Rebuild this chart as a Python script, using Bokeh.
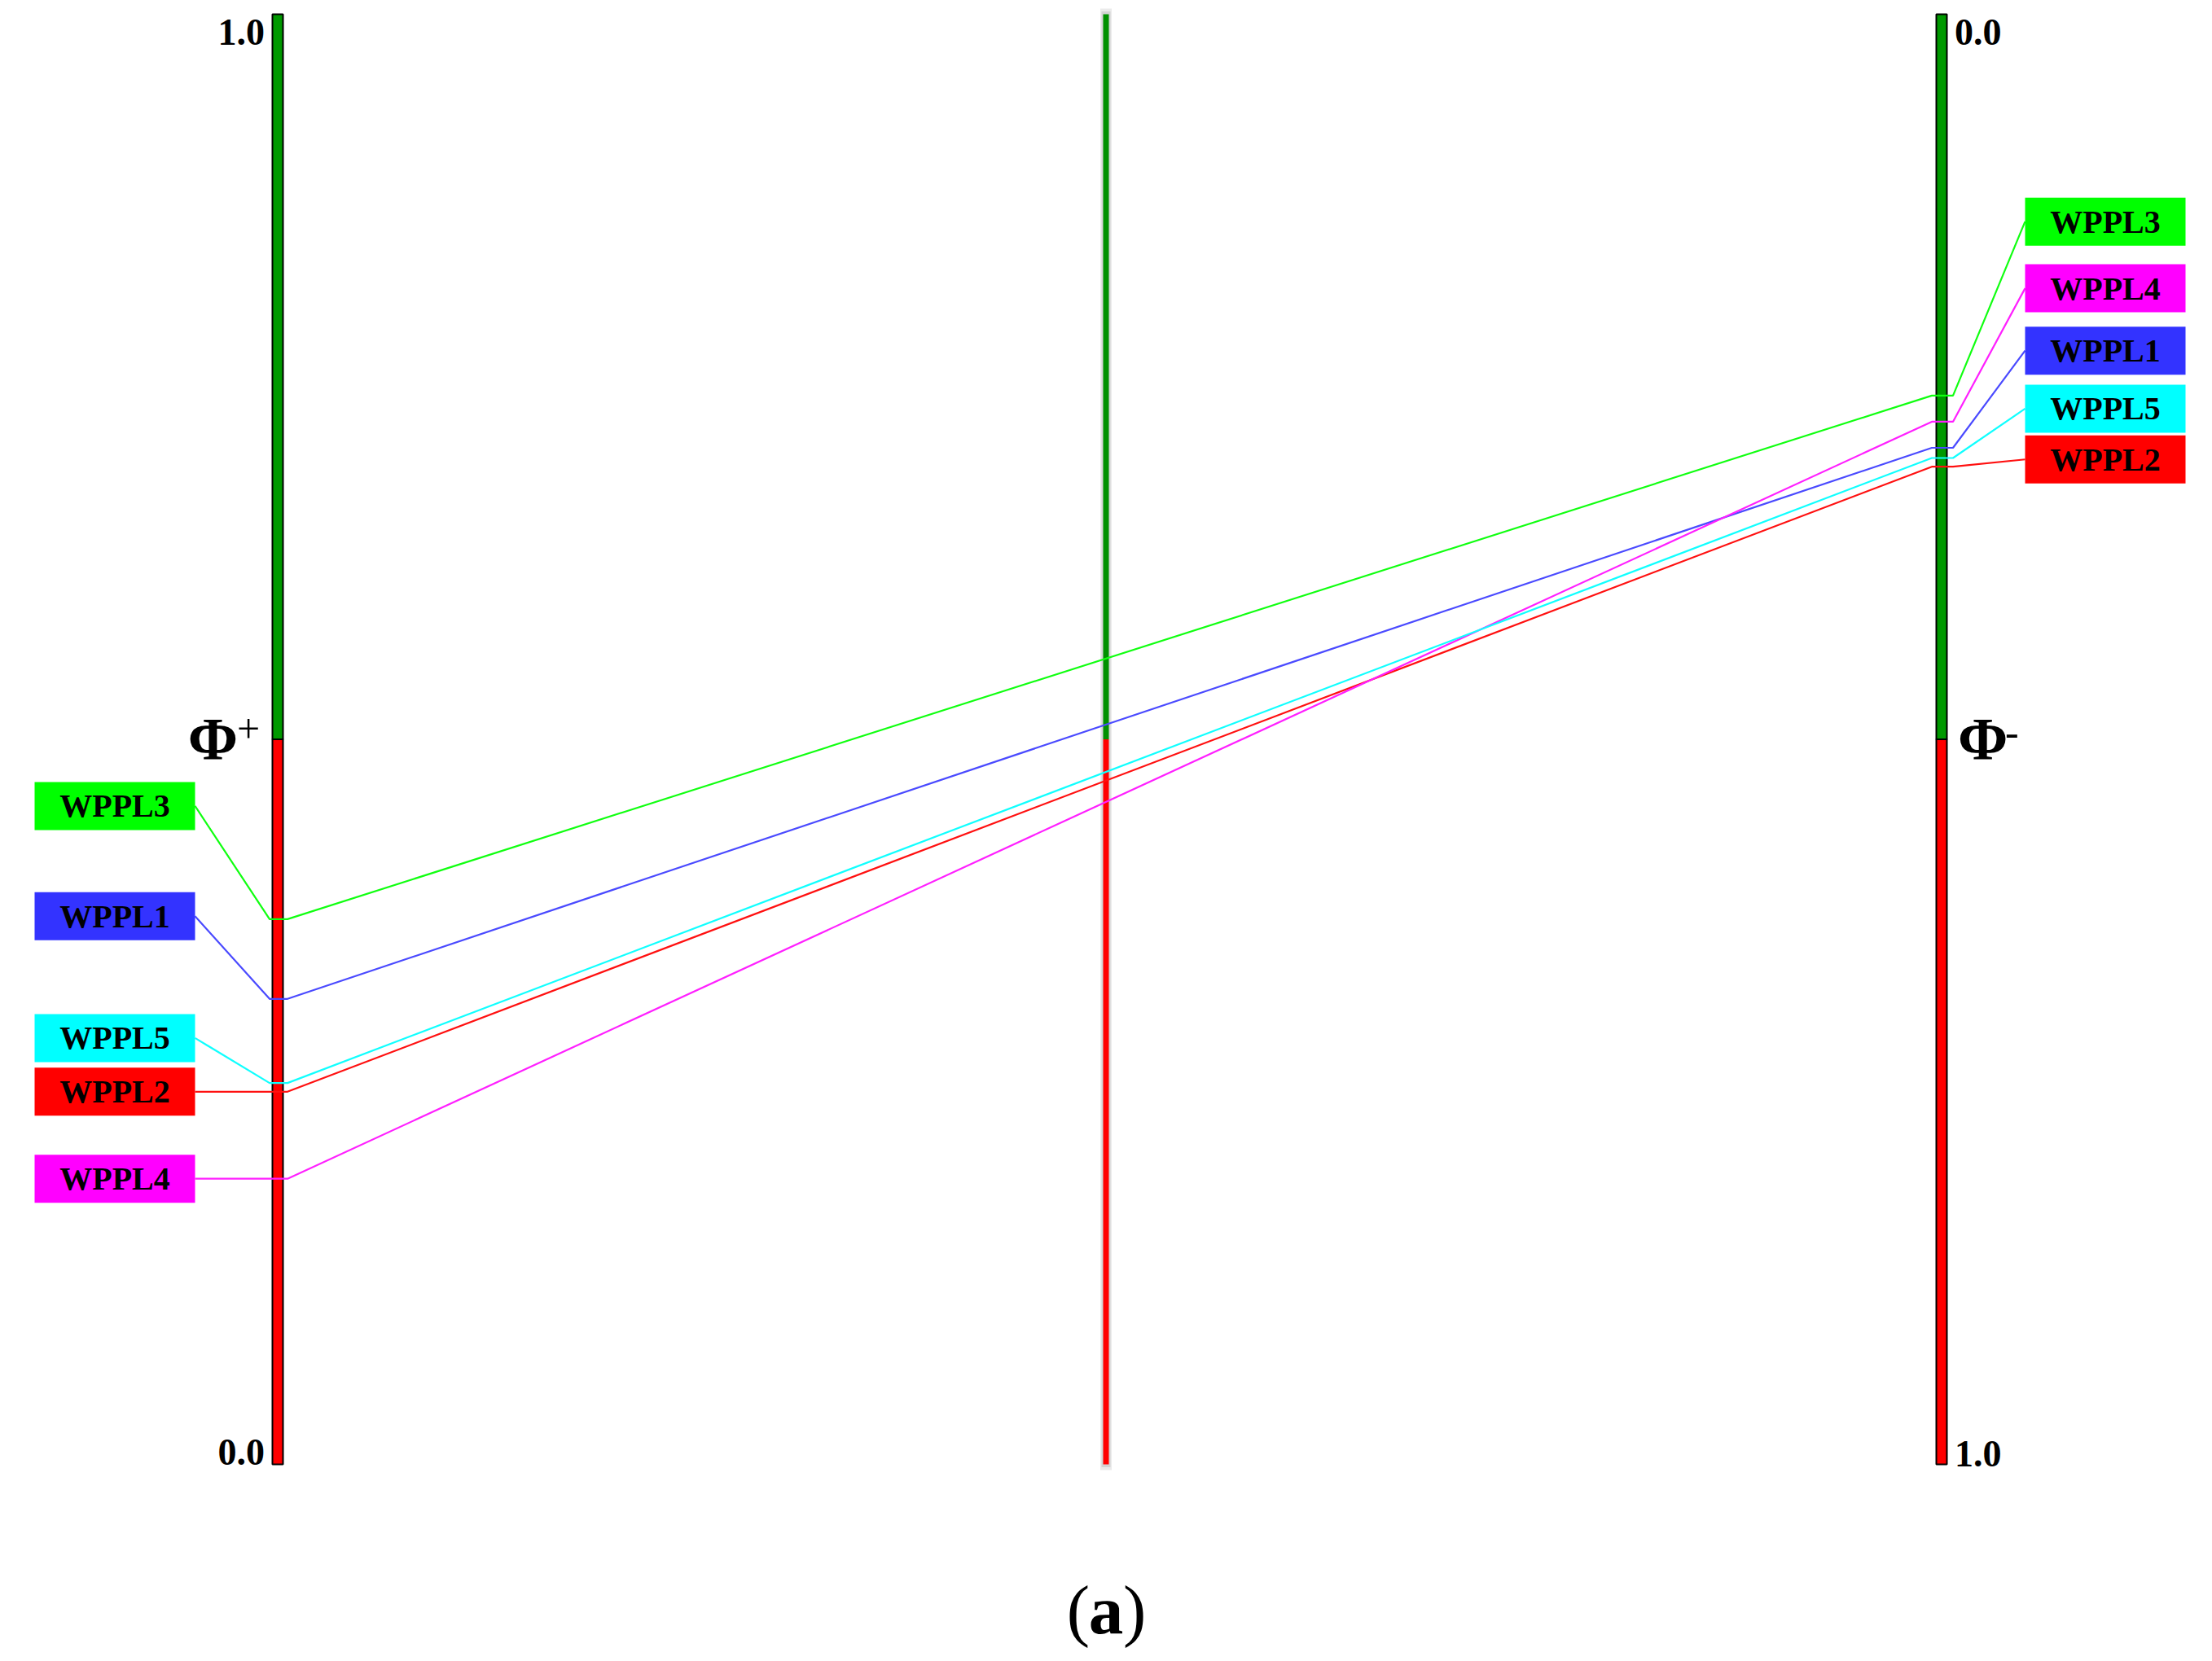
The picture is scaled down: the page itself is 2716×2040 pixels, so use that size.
from bokeh.plotting import figure
from bokeh.models import Range1d
from bokeh.embed import file_html
from bokeh.resources import INLINE
from bokeh.core.properties import value

# ---------------- data ----------------
alternatives = ["WPPL1", "WPPL2", "WPPL3", "WPPL4", "WPPL5"]
phi_plus = [0.321, 0.257, 0.376, 0.197, 0.263]     # left axis (0 bottom, 1 top)
phi_minus = [0.299, 0.312, 0.263, 0.281, 0.306]    # right axis (0 top, 1 bottom)
box_colors = ["#3333ff", "#ff0000", "#00ff00", "#ff00ff", "#00ffff"]
line_colors = ["#4a4aff", "#ff1010", "#10ff10", "#ff20ff", "#10ffff"]
left_ticks = ["0.0", "1.0"]
right_ticks = ["0.0", "1.0"]

# ---------------- layout ----------------
# label anchor positions (layout only), in each axis' own units
left_label_at = [0.378, 0.257, 0.454, 0.197, 0.294]
right_label_at = [0.232, 0.307, 0.143, 0.189, 0.272]

W, H = 2700, 2024
PX = 1781.0          # pixels per axis unit
Y0 = 1798.0          # page y of value 0 on the left axis
X_L, X_M, X_R = 340.5, 1357.5, 2383.5
FONT = value("Liberation Serif")

p = figure(width=W, height=H, output_backend="svg", toolbar_location=None,
           x_axis_location=None, y_axis_location=None,
           x_range=Range1d(0, W),
           y_range=Range1d((Y0 - H) / PX, Y0 / PX),
           min_border=0, min_border_left=0, min_border_right=0,
           min_border_top=0, min_border_bottom=0)
p.grid.visible = False
p.outline_line_color = None
p.background_fill_color = "white"
p.border_fill_color = "white"

def up(v):          # right axis value -> plot units
    return 1.0 - v

# side axes (phi+ and phi-)
for xc in (X_L, X_R):
    p.quad(left=[xc - 6.5] * 2, right=[xc + 6.5] * 2, bottom=[0.0, 0.5], top=[0.5, 1.0],
           fill_color=["#ff0000", "#009900"], line_color="black", line_width=2)

# middle (net flow) axis with a soft shadow
p.quad(left=[X_M - 7], right=[X_M + 7], bottom=[-0.004], top=[1.004],
       fill_color="#d8d8d8", fill_alpha=0.5, line_color=None)
p.quad(left=[X_M - 5.5], right=[X_M + 5.5], bottom=[-0.002], top=[1.002],
       fill_color="#bdbdbd", fill_alpha=0.5, line_color=None)
p.quad(left=[X_M - 3.5] * 2, right=[X_M + 3.5] * 2, bottom=[0.0, 0.5], top=[0.5, 1.0],
       fill_color=["#ff0000", "#009000"], line_color=None)

BOX_H = 59.0 / PX
LB_L, LB_R = 42, 239
RB_L, RB_R = 2486, 2683

# connecting lines
for i in range(len(alternatives)):
    a = phi_plus[i]
    b = up(phi_minus[i])
    xs = [LB_R, X_L - 10, X_L + 12, X_R - 12, X_R + 14, RB_L]
    ys = [left_label_at[i], a, a, b, b, up(right_label_at[i])]
    p.line(xs, ys, line_color=line_colors[i], line_width=2.2)

# label boxes
p.quad(left=[LB_L] * 5, right=[LB_R] * 5,
       bottom=[v - BOX_H / 2 for v in left_label_at],
       top=[v + BOX_H / 2 for v in left_label_at],
       fill_color=box_colors, line_color=None)
p.quad(left=[RB_L] * 5, right=[RB_R] * 5,
       bottom=[up(v) - BOX_H / 2 for v in right_label_at],
       top=[up(v) + BOX_H / 2 for v in right_label_at],
       fill_color=box_colors, line_color=None)
p.text(x=[(LB_L + LB_R) / 2] * 5, y=left_label_at, text=alternatives,
       text_font=FONT, text_font_style="bold", text_font_size="40px",
       text_align="center", text_baseline="middle", text_color="black")
p.text(x=[(RB_L + RB_R) / 2] * 5, y=[up(v) for v in right_label_at], text=alternatives,
       text_font=FONT, text_font_style="bold", text_font_size="40px",
       text_align="center", text_baseline="middle", text_color="black")

# tick labels
p.text(x=[X_L, X_L], y=[0.0, 1.0], text=left_ticks, x_offset=-16, y_offset=[-15, 22],
       text_font=FONT, text_font_style="bold", text_font_size="46px",
       text_align="right", text_baseline="alphabetic", text_color="black")
p.text(x=[X_R, X_R], y=[up(0.0), up(1.0)], text=right_ticks, x_offset=16, y_offset=[22, -13],
       text_font=FONT, text_font_style="bold", text_font_size="46px",
       text_align="left", text_baseline="alphabetic", text_color="black")

# axis names
p.text(x=[X_L], y=[0.5], text=["Φ"], x_offset=-49, y_offset=0,
       text_font=FONT, text_font_style="bold", text_font_size="74px",
       text_align="right", text_baseline="alphabetic", text_color="black")
p.text(x=[X_L], y=[0.5], text=["+"], x_offset=-50, y_offset=-13,
       text_font=FONT, text_font_size="50px",
       text_align="left", text_baseline="alphabetic", text_color="black")
p.text(x=[X_R], y=[0.5], text=["Φ"], x_offset=20, y_offset=0,
       text_font=FONT, text_font_style="bold", text_font_size="74px",
       text_align="left", text_baseline="alphabetic", text_color="black")
p.text(x=[X_R], y=[0.5], text=["-"], x_offset=78, y_offset=-9,
       text_font=FONT, text_font_size="50px",
       text_align="left", text_baseline="alphabetic", text_color="black")

# caption (a)
p.text(x=[X_M], y=[0.0], text=["("], x_offset=-20, y_offset=178,
       text_font=FONT, text_font_size="85px",
       text_align="right", text_baseline="alphabetic", text_color="black")
p.text(x=[X_M], y=[0.0], text=["a"], x_offset=0, y_offset=178,
       text_font=FONT, text_font_style="bold", text_font_size="85px",
       text_align="center", text_baseline="alphabetic", text_color="black")
p.text(x=[X_M], y=[0.0], text=[")"], x_offset=21, y_offset=178,
       text_font=FONT, text_font_size="85px",
       text_align="left", text_baseline="alphabetic", text_color="black")

open("out.html", "w").write(file_html(p, INLINE))
